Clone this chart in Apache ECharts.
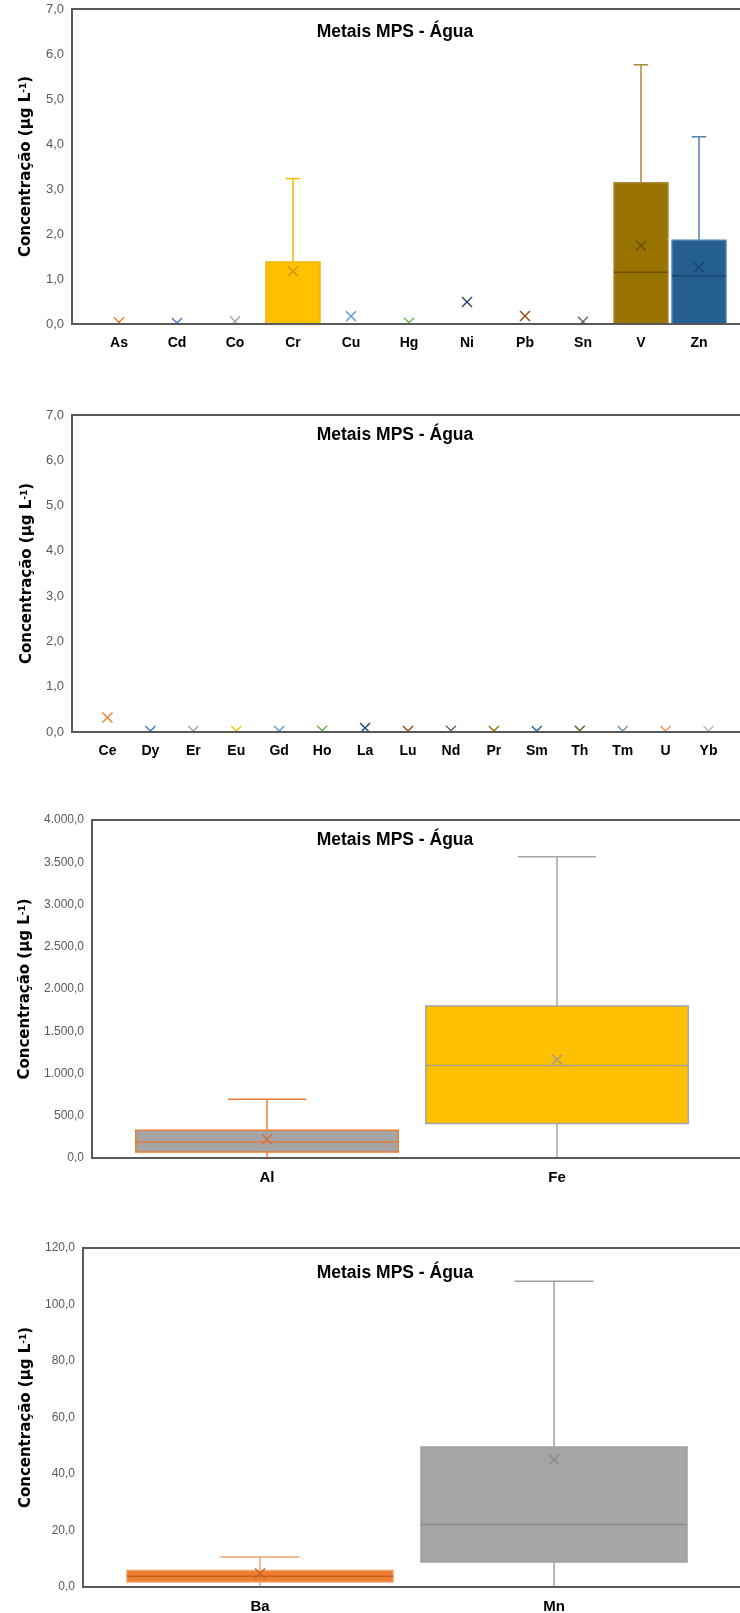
<!DOCTYPE html>
<html>
<head>
<meta charset="utf-8">
<title>Metais MPS - Água</title>
<script src="https://cdn.jsdelivr.net/npm/echarts@6/dist/echarts.min.js"></script>
<style>
  html, body { margin: 0; padding: 0; background: #fff; }
  #chart { width: 740px; height: 1613px; }
</style>
</head>
<body>
<div id="chart"></div>
<script>
// ---- Panel 1: trace metals (µg/L) ----
const metals1 = ['As', 'Cd', 'Co', 'Cr', 'Cu', 'Hg', 'Ni', 'Pb', 'Sn', 'V', 'Zn'];
const low1    = [null, null, null, 0,    null, null, null, null, null, 0,    0];
const q1st1   = [null, null, null, 0,    null, null, null, null, null, 0,    0];
const median1 = [null, null, null, 0,    null, null, null, null, null, 1.15, 1.07];
const q3rd1   = [null, null, null, 1.38, null, null, null, null, null, 3.14, 1.86];
const high1   = [null, null, null, 3.23, null, null, null, null, null, 5.76, 4.16];
const mean1   = [0.04, 0.02, 0.06, 1.17, 0.17, 0.03, 0.49, 0.18, 0.05, 1.74, 1.26];

// ---- Panel 2: rare earths and actinides (µg/L) ----
const elements2 = ['Ce', 'Dy', 'Er', 'Eu', 'Gd', 'Ho', 'La', 'Lu', 'Nd', 'Pr', 'Sm', 'Th', 'Tm', 'U', 'Yb'];
const mean2     = [0.32, 0.02, 0.02, 0.02, 0.02, 0.03, 0.09, 0.02, 0.03, 0.02, 0.02, 0.03, 0.02, 0.02, 0.02];

// ---- Panel 3: major metals (µg/L) ----
const metals3 = ['Al', 'Fe'];
const low3    = [0, 0];
const q1st3   = [71, 407];
const median3 = [190, 1094];
const q3rd3   = [328, 1800];
const high3   = [695, 3565];
const mean3   = [221, 1165];

// ---- Panel 4: Ba and Mn (µg/L) ----
const metals4 = ['Ba', 'Mn'];
const low4    = [0, 0];
const q1st4   = [1.8, 8.85];
const median4 = [3.8, 22.1];
const q3rd4   = [5.8, 49.6];
const high4   = [10.6, 108.2];
const mean4   = [4.8, 45.1];

// Value axis ranges: [max, interval]
const axis1 = [7, 1];
const axis2 = [7, 1];
const axis3 = [4000, 500];
const axis4 = [120, 20];

// Colours (fill / whisker+border / median / mean marker)
const style1 = [
  { mean: '#ED7D31' }, { mean: '#4472C4' }, { mean: '#A5A5A5' },
  { fill: '#FFC000', line: '#F2B800', median: '#C49A00', mean: '#C49A00' },
  { mean: '#5B9BD5' }, { mean: '#70AD47' }, { mean: '#264478' },
  { mean: '#9E480E' }, { mean: '#636363' },
  { fill: '#997300', line: '#A88A3A', median: '#6B5000', mean: '#6B5000' },
  { fill: '#255E91', line: '#4F7FAF', median: '#1B466D', mean: '#1B466D' }
];
const style2 = ['#ED7D31', '#4472C4', '#A5A5A5', '#FFC000', '#5B9BD5', '#70AD47', '#264478',
  '#9E480E', '#636363', '#997300', '#255E91', '#43682B', '#698ED0', '#F1975A', '#B7B7B7']
  .map(c => ({ mean: c }));
const style3 = [
  { fill: '#A5A5A5', line: '#ED7D31', median: '#E07A3A', mean: '#D9703A' },
  { fill: '#FFC000', line: '#A5A5A5', median: '#A8A08A', mean: '#A09A90' }
];
const style4 = [
  { fill: '#ED7D31', line: '#F2A36C', median: '#C65E1C', mean: '#C8641E' },
  { fill: '#A5A5A5', line: '#A0A0A0', median: '#8A8A8A', mean: '#8A8A8A' }
];

const TITLE = 'Metais MPS - Água';
const YNAME = 'Concentração (µg L{s|-1})';

function fmtNum(v) {
  const parts = Number(v).toFixed(1).split('.');
  return parts[0].replace(/\B(?=(\d{3})+(?!\d))/g, '.') + ',' + parts[1];
}

function toRows(n, lo, q1, md, q3, hi, mn) {
  const pick = (arr, i) => (arr && arr[i] != null ? arr[i] : '-');
  const rows = [];
  for (let i = 0; i < n; i++) {
    rows.push([i, pick(lo, i), pick(q1, i), pick(md, i), pick(q3, i), pick(hi, i), pick(mn, i)]);
  }
  return rows;
}

function seg(x1, y1, x2, y2, color, w) {
  return { type: 'line', shape: { x1, y1, x2, y2 }, style: { stroke: color, lineWidth: w || 1.5 } };
}

// Box-and-whisker mark with short caps and an "×" at the mean
function boxRenderer(styles, boxRatio, capRatio) {
  return function (params, api) {
    const st = styles[params.dataIndex];
    const cat = api.value(0);
    const band = api.size([1, 0])[0];
    const cx = api.coord([cat, 0])[0];
    const py = v => api.coord([cat, v])[1];
    const lo = api.value(1), q1 = api.value(2), md = api.value(3), q3 = api.value(4), hi = api.value(5), mn = api.value(6);
    const kids = [];
    if (!isNaN(q3) && st.fill) {
      const half = band * boxRatio / 2;
      const cap = band * capRatio / 2;
      kids.push(seg(cx, py(q3), cx, py(hi), st.line));
      kids.push(seg(cx - cap, py(hi), cx + cap, py(hi), st.line));
      kids.push(seg(cx, py(lo), cx, py(q1), st.line));
      kids.push(seg(cx - cap, py(lo), cx + cap, py(lo), st.line));
      kids.push({
        type: 'rect',
        shape: { x: cx - half, y: py(q3), width: half * 2, height: py(q1) - py(q3) },
        style: { fill: st.fill, stroke: st.line, lineWidth: 1.5 }
      });
      kids.push(seg(cx - half, py(md), cx + half, py(md), st.median));
    }
    if (!isNaN(mn)) {
      const m = 5, my = py(mn);
      kids.push(seg(cx - m, my - m, cx + m, my + m, st.mean, 1.4));
      kids.push(seg(cx - m, my + m, cx + m, my - m, st.mean, 1.4));
    }
    return { type: 'group', children: kids };
  };
}

// Panel geometry: frame grid (axis line + border) and data grid (category bands)
const panels = [
  { cats: metals1, rows: toRows(metals1.length, low1, q1st1, median1, q3rd1, high1, mean1), styles: style1,
    axis: axis1, frameLeft: 72, top: 9, height: 315, dataLeft: 90, dataWidth: 638,
    nameGap: 38, tickSize: 13, catSize: 14, box: 0.93, cap: 0.25, titleY: 32 },
  { cats: elements2, rows: toRows(elements2.length, null, null, null, null, null, mean2), styles: style2,
    axis: axis2, frameLeft: 72, top: 415, height: 317, dataLeft: 86, dataWidth: 644,
    nameGap: 37, tickSize: 13, catSize: 14, box: 0.9, cap: 0.25, titleY: 435 },
  { cats: metals3, rows: toRows(metals3.length, low3, q1st3, median3, q3rd3, high3, mean3), styles: style3,
    axis: axis3, frameLeft: 92, top: 820, height: 338, dataLeft: 122, dataWidth: 580,
    nameGap: 57, tickSize: 12, catSize: 15, box: 0.905, cap: 0.27, titleY: 840 },
  { cats: metals4, rows: toRows(metals4.length, low4, q1st4, median4, q3rd4, high4, mean4), styles: style4,
    axis: axis4, frameLeft: 83, top: 1248, height: 339, dataLeft: 113, dataWidth: 588,
    nameGap: 48, tickSize: 12, catSize: 15, box: 0.905, cap: 0.27, titleY: 1273 }
];

const grid = [], xAxis = [], yAxis = [], series = [], graphic = [];
panels.forEach((p, k) => {
  const fi = k * 2, di = k * 2 + 1;
  grid.push({ left: p.frameLeft, top: p.top, right: -40, height: p.height, show: true,
    borderColor: '#595959', borderWidth: 2, backgroundColor: 'transparent', z: 10, outerBoundsMode: 'none' });
  grid.push({ left: p.dataLeft, top: p.top, width: p.dataWidth, height: p.height, outerBoundsMode: 'none' });

  xAxis.push({ gridIndex: fi, type: 'value', show: false });
  xAxis.push({ gridIndex: di, type: 'category', data: p.cats, boundaryGap: true,
    axisLine: { show: false }, axisTick: { show: false }, splitLine: { show: false },
    axisLabel: { interval: 0, margin: 12, color: '#000', fontWeight: 'bold',
      fontFamily: 'Liberation Sans', fontSize: p.catSize } });

  yAxis.push({ gridIndex: fi, type: 'value', min: 0, max: p.axis[0], interval: p.axis[1], z: 10,
    axisLine: { show: true, lineStyle: { color: '#595959', width: 2 } },
    axisTick: { show: false }, splitLine: { show: false },
    axisLabel: { margin: 8, color: '#595959', fontFamily: 'Liberation Sans', fontSize: p.tickSize, formatter: fmtNum },
    name: YNAME, nameLocation: 'middle', nameRotate: 90, nameGap: p.nameGap,
    nameTextStyle: { color: '#000', fontFamily: 'DejaVu Sans', fontWeight: 'bold', fontSize: 15,
      rich: { s: { color: '#000', fontFamily: 'DejaVu Sans', fontWeight: 'bold', fontSize: 9, verticalAlign: 'top' } } } });
  yAxis.push({ gridIndex: di, type: 'value', min: 0, max: p.axis[0], show: false });

  series.push({
    type: 'custom', xAxisIndex: di, yAxisIndex: di, clip: true,
    renderItem: boxRenderer(p.styles, p.box, p.cap),
    encode: { x: 0, y: [1, 2, 3, 4, 5, 6] },
    data: p.rows
  });

  graphic.push({ type: 'text', x: 395, y: p.titleY, z: 20,
    style: { text: TITLE, align: 'center', verticalAlign: 'middle', fill: '#000',
      font: 'bold 17.5px "Liberation Sans", sans-serif' } });
});

const chart = echarts.init(document.getElementById('chart'), null, { renderer: 'canvas' });
chart.setOption({
  animation: false,
  backgroundColor: '#fff',
  grid, xAxis, yAxis, series, graphic
});
</script>
</body>
</html>
